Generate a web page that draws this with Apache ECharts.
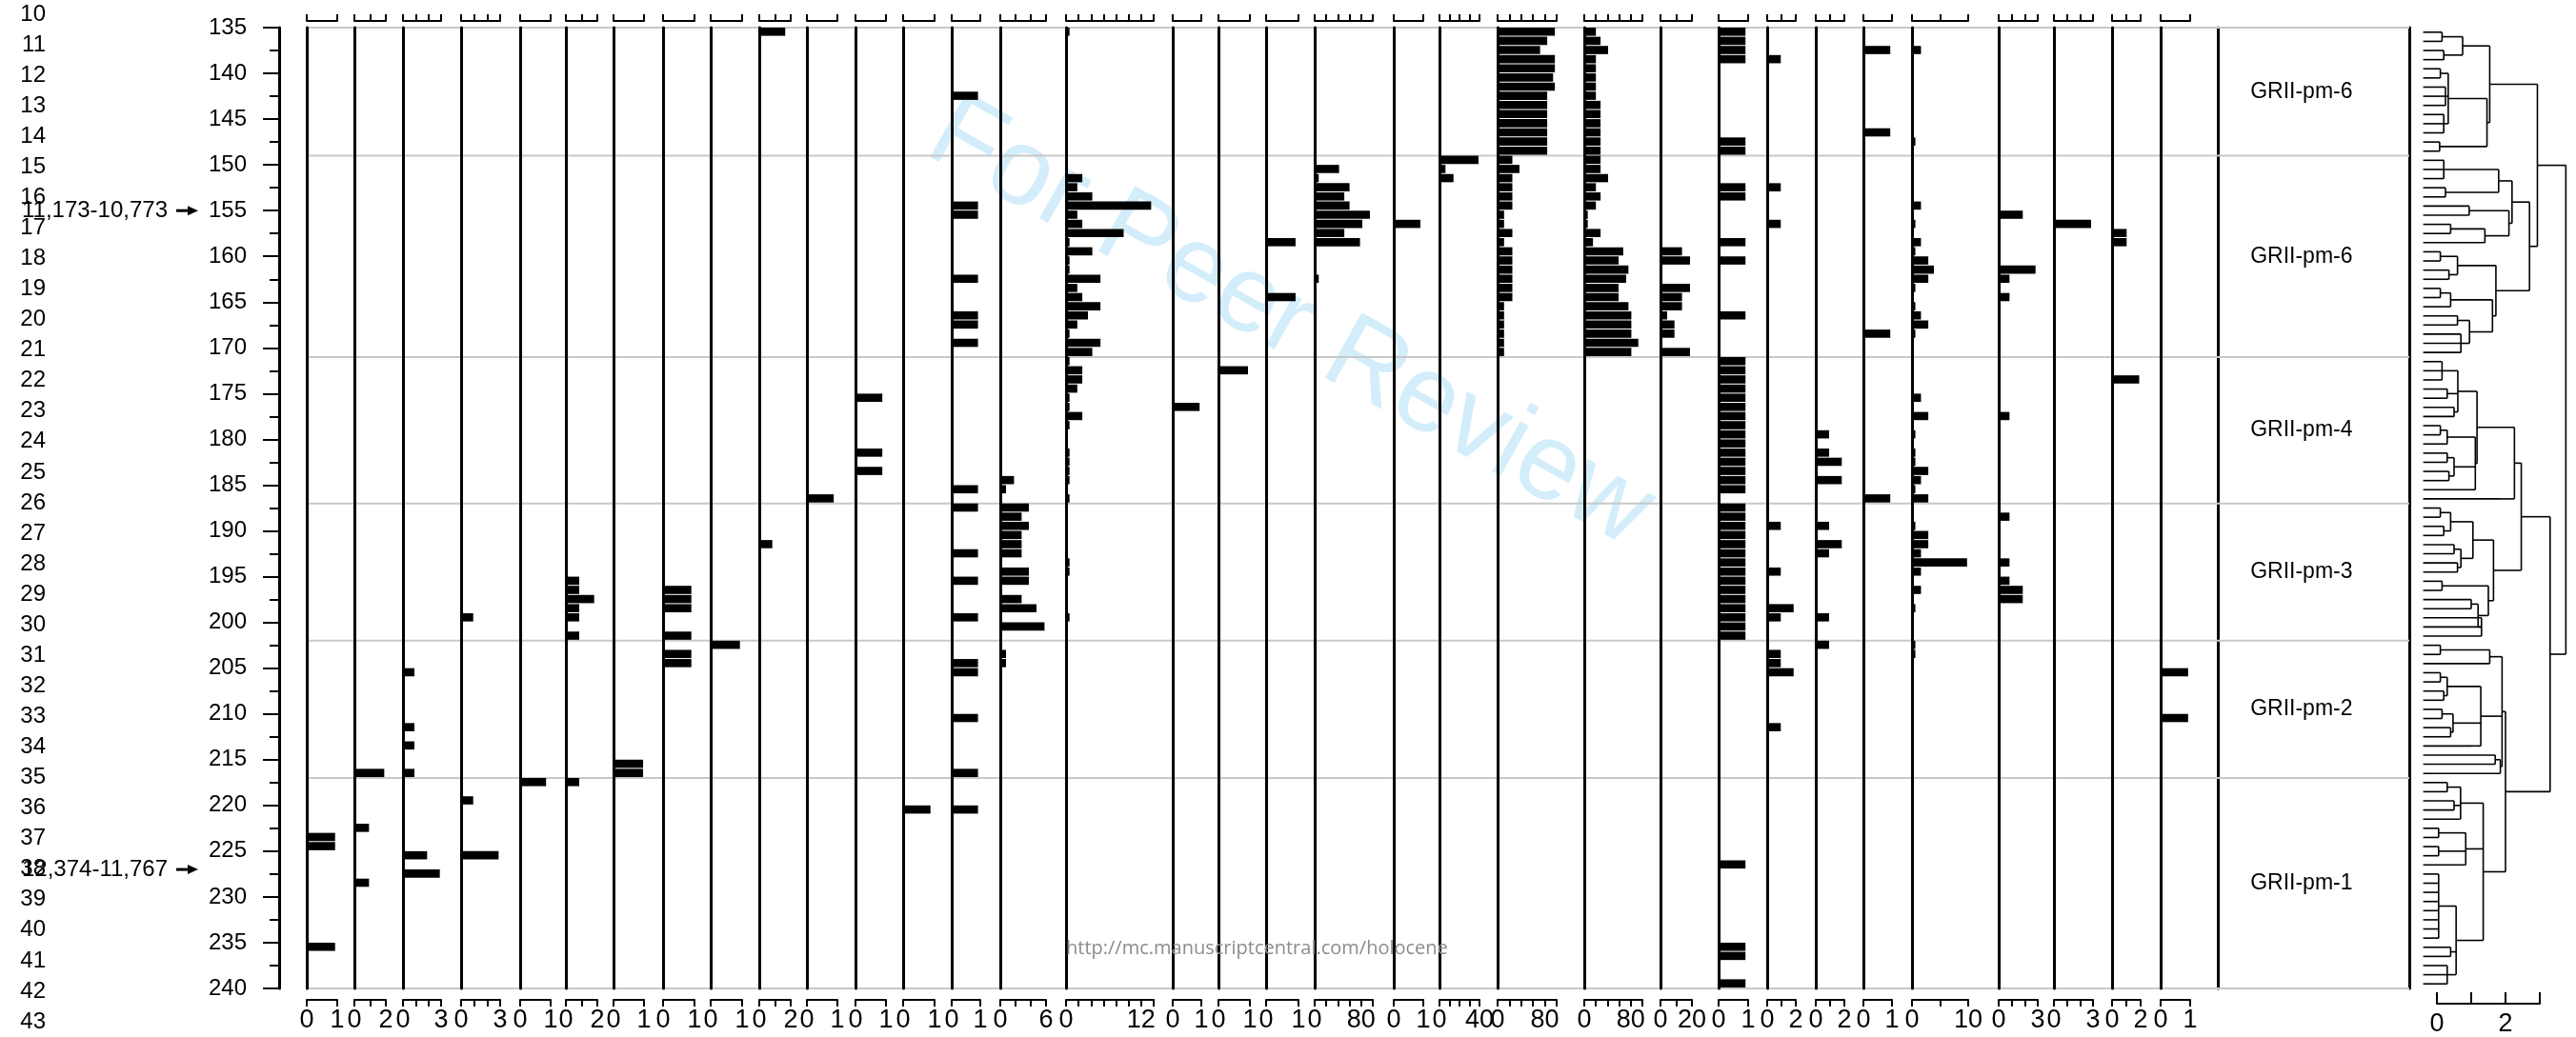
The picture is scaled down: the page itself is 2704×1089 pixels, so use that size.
<!DOCTYPE html>
<html>
<head>
<meta charset="utf-8">
<script src="https://cdn.jsdelivr.net/npm/echarts@6/dist/echarts.min.js"></script>
<style>
  html, body { margin: 0; background: #fff; }
  #chart { width: 2704px; height: 1089px; }
</style>
</head>
<body>
<div id="chart"></div>
<script>
// depth range (cm) and sample numbers on the far left
const depthMin = 135, depthMax = 240;
const sampleLabels = ['10','11','12','13','14','15','16','17','18','19','20','21','22','23','24','25','26',
  '27','28','29','30','31','32','33','34','35','36','37','38','39','40','41','42','43'];

// zones
const zoneBounds = [135, 149, 171, 187, 202, 217, 240];
const zoneNames = ['GRII-pm-6', 'GRII-pm-6', 'GRII-pm-4', 'GRII-pm-3', 'GRII-pm-2', 'GRII-pm-1'];

// dated levels
const ageNotes = [[155, '11,173-10,773'], [227, '12,374-11,767']];

// per panel scale: axis end, tick step, value of the right hand label
const axisEnd  = [1,2,3,3,1,2,1,1,1,2,1,1,1,1,6,14,1,1,1,100,1,40,100,100,20,1,2,2,1,10,3,3,2,1];
const tickStep = [1,1,1,1,1,1,1,1,1,1,1,1,1,1,2,2,1,1,1,20,1,10,20,20,10,1,1,1,1,5,1,1,1,1];
const labelMax = [1,2,3,3,1,2,1,1,1,2,1,1,1,1,6,12,1,1,1,80,1,40,80,80,20,1,2,2,1,10,3,3,2,1];

// bar values per panel: [top depth, value]
const p01 = [[223,0.93],[224,0.93],[235,0.93]];
const p02 = [[216,1.9],[222,0.93],[228,0.93]];
const p03 = [[205,0.9],[211,0.9],[213,0.9],[216,0.9],[225,1.9],[227,2.9]];
const p04 = [[199,0.93],[219,0.93],[225,2.88]];
const p05 = [[217,0.85]];
const p06 = [[195,0.85],[196,0.85],[197,1.8],[198,0.85],[199,0.85],[201,0.85],[217,0.85]];
const p07 = [[215,0.97],[216,0.97]];
const p08 = [[196,0.9],[197,0.9],[198,0.9],[201,0.9],[203,0.9],[204,0.9]];
const p09 = [[202,0.93]];
const p10 = [[135,1.65],[191,0.83]];
const p11 = [[186,0.88]];
const p12 = [[175,0.88],[181,0.88],[183,0.88]];
const p13 = [[220,0.87]];
const p14 = [[142,0.92],[154,0.92],[155,0.92],[162,0.92],[166,0.92],[167,0.92],[169,0.92],[185,0.92],
  [187,0.92],[192,0.92],[195,0.92],[199,0.92],[204,0.92],[205,0.92],[210,0.92],[216,0.92],[220,0.92]];
const p15 = [[184,1.8],[185,0.75],[187,3.75],[188,2.8],[189,3.75],[190,2.8],[191,2.8],[192,2.8],[194,3.75],
  [195,3.75],[197,2.8],[198,4.75],[200,5.8],[203,0.75],[204,0.75]];
const p16 = [[135,0.56],[151,2.6],[152,1.8],[153,4.2],[154,13.6],[155,1.8],[156,2.6],[157,9.2],[158,0.56],
  [159,4.2],[160,0.56],[161,0.56],[162,5.5],[163,1.8],[164,2.6],[165,5.5],[166,3.5],[167,1.8],[168,0.56],
  [169,5.5],[170,4.2],[171,0.56],[172,2.6],[173,2.6],[174,1.8],[175,0.56],[176,0.56],[177,2.6],[178,0.56],
  [181,0.56],[182,0.56],[183,0.56],[184,0.56],[186,0.56],[193,0.56],[194,0.56],[199,0.56]];
const p17 = [[176,0.94]];
const p18 = [[172,0.94]];
const p19 = [[158,0.91],[164,0.91]];
const p20 = [[150,42],[151,7],[152,60],[153,51],[154,60],[155,95],[156,82],[157,51],[158,78],[162,7]];
const p21 = [[156,0.9]];
const p22 = [[149,39],[150,6],[151,14]];
const p23 = [[135,97],[136,84],[137,72],[138,97],[139,97],[140,94],[141,97],[142,84],[143,84],[144,84],
  [145,84],[146,84],[147,84],[148,84],[149,25],[150,37],[151,25],[152,25],[153,25],[154,25],[155,11],
  [156,11],[157,25],[158,11],[159,25],[160,25],[161,25],[162,25],[163,25],[164,25],[165,11],[166,11],
  [167,11],[168,11],[169,11],[170,11]];
const p24 = [[135,20],[136,28],[137,41],[138,20],[139,20],[140,20],[141,20],[142,20],[143,28],[144,28],
  [145,28],[146,28],[147,28],[148,28],[149,28],[150,28],[151,41],[152,20],[153,28],[154,20],[155,6],
  [156,6],[157,28],[158,15],[159,67],[160,59],[161,76],[162,72],[163,59],[164,59],[165,76],[166,81],
  [167,81],[168,81],[169,93],[170,81]];
const p25 = [[159,13.7],[160,18.8],[163,18.8],[164,13.7],[165,13.7],[166,4.2],[167,8.9],[168,8.9],[170,18.8]];
const p26 = [[135,0.91],[136,0.91],[137,0.91],[138,0.91],[147,0.91],[148,0.91],[152,0.91],[153,0.91],
  [158,0.91],[160,0.91],[166,0.91],[171,0.91],[172,0.91],[173,0.91],[174,0.91],[175,0.91],[176,0.91],
  [177,0.91],[178,0.91],[179,0.91],[180,0.91],[181,0.91],[182,0.91],[183,0.91],[184,0.91],[185,0.91],
  [187,0.91],[188,0.91],[189,0.91],[190,0.91],[191,0.91],[192,0.91],[193,0.91],[194,0.91],[195,0.91],
  [196,0.91],[197,0.91],[198,0.91],[199,0.91],[200,0.91],[201,0.91],[226,0.91],[235,0.91],[236,0.91],[239,0.91]];
const p27 = [[138,0.95],[152,0.95],[156,0.95],[189,0.95],[194,0.95],[198,1.85],[199,0.95],[203,0.95],
  [204,0.95],[205,1.85],[211,0.95]];
const p28 = [[179,0.93],[181,0.93],[182,1.82],[184,1.82],[189,0.93],[191,1.82],[192,0.93],[199,0.93],[202,0.93]];
const p29 = [[137,0.94],[146,0.94],[168,0.94],[186,0.94]];
const p30 = [[137,1.6],[147,0.6],[154,1.6],[156,0.6],[158,1.6],[159,0.6],[160,2.9],[161,3.9],[162,2.9],
  [163,0.6],[165,0.6],[166,1.6],[167,2.9],[168,0.6],[175,1.6],[177,2.9],[179,0.6],[181,0.6],[182,0.6],
  [183,2.9],[184,1.6],[185,0.6],[186,2.9],[189,0.6],[190,2.9],[191,2.9],[192,1.6],[193,9.8],[194,1.6],
  [196,1.6],[198,0.6],[202,0.6],[203,0.6]];
const p31 = [[155,1.85],[161,2.83],[162,0.83],[164,0.83],[177,0.83],[188,0.83],[193,0.83],[195,0.83],[196,1.85],[197,1.85]];
const p32 = [[156,2.85]];
const p33 = [[157,1.02],[158,1.02],[173,1.9]];
const p34 = [[205,0.93],[210,0.93]];

const panels = [p01,p02,p03,p04,p05,p06,p07,p08,p09,p10,p11,p12,p13,p14,p15,p16,p17,
  p18,p19,p20,p21,p22,p23,p24,p25,p26,p27,p28,p29,p30,p31,p32,p33,p34];

// CONISS dendrogram: [join height, children...], leaves are sample depths
const coniss = [3.76,
  [2.93,
    [1.54,
      [0.75, [0.15,135,136], [0.2,137,138]],
      [1.46, [0.33, [0.1,139,140], [0.25,141,142,143], [0.2,144,145,146]], [0.08,147,148]]],
    [2.7,
      [2.19,
        [1.8, [0.2,149,150,151], [0.25,152,153]],
        [2.1, [0.94,154,155], [1.4, [0.4,156,157], 158]]],
      [1.72,
        [0.6, [0.1,159,160], [0.35,161,162]],
        [1.62, [0.4, [0.1,163,164], [0.2,165]], [0.95, [0.6,166,167], [0.7,168,169,170]]]]]],
  [3.3,
    [2.46,
      [2.26,
        [1.17,
          [0.61, [0.15,171,172,173], [0.3,174,175], [0.5,176,177]],
          [1.12, [0.3, [0.1,178,179], 180], [0.5, [0.3,181,182], [0.35,183,184]], [1.0,185]]],
        [1.86, 186]],
      [1.65,
        [1.05, [0.4, [0.1,187,188], [0.2,189,190]], [0.7, [0.5,191,192], [0.6,193,194]]],
        [1.5, [0.15,195,196], [1.2, [1.0,197,198], [1.3,199,200,201]]]]],
    [2.0,
      [1.9,
        [1.54, [0.1,202,203], [1.5,204]],
        [1.28, [0.3, [0.1,205,206], [0.2,207,208]], [0.47, [0.15,209,210], [0.4,211,212]], [1.0,213]],
        [1.85, [1.7,214,215], 216]],
      [1.35,
        [0.69, [0.3,217,218], [0.5,219,220], [0.65,221]],
        [0.84, [0.05,222,223], [0.05,224,225], [0.8,226]],
        [0.56, [0.05,227,228,229,230,231,232,233,234], [0.4,235,236], [0.3,237,238,239]]]]]];

// ---- layout (pixels) ----
const panelLeft  = [322,372,423,484,546,594,644,696,746,797,847,898,948,999,1050,1119,1231,1279,1329,
  1380,1463,1511,1572,1663,1743,1804,1855,1906,1956,2007,2098,2156,2217,2268];
const panelWidth = [32,33,40,41,32,33,32,33,33,33,32,32,33,30,48,92,30,33,34,61,31,42,62,61,33,31,30,30,
  30,59,41,41,30,31];
const TOP = 29, HEIGHT = 1009;
const SANS = '"Liberation Sans", Arial, sans-serif';
const NARROW = '"Liberation Sans Narrow", "Arial Narrow", "Liberation Sans", sans-serif';
const LEAF_X = -0.4;
const DENDRO_PX = 36;     // px per unit of the dendrogram scale
const DENDRO_END = 3.8;   // room for the root link

const grids = [], xAxes = [], yAxes = [], series = [];

function depthAxis(gi, extra) {
  return Object.assign({
    gridIndex: gi, type: 'value', min: depthMin, max: depthMax, inverse: true,
    axisLine: { show: false }, axisTick: { show: false }, axisLabel: { show: false },
    splitLine: { show: false }
  }, extra || {});
}
function unitAxis(gi) {
  return { gridIndex: gi, type: 'value', min: 0, max: 1, show: false };
}

// background: zone lines across all panels
grids.push({ left: 322, top: TOP, width: 2207, height: HEIGHT });
xAxes.push(unitAxis(0));
yAxes.push(depthAxis(0));
series.push({
  type: 'custom', xAxisIndex: 0, yAxisIndex: 0, z: 1, silent: true,
  data: zoneBounds.map(d => [0, d]),
  renderItem: (params, api) => {
    const a = api.coord([0, api.value(1)]), b = api.coord([1, api.value(1)]);
    return { type: 'line', shape: { x1: a[0], y1: a[1], x2: b[0], y2: b[1] },
      style: { stroke: '#c8c8c8', lineWidth: 2 } };
  }
});

// depth axis
grids.push({ left: 293, top: TOP, width: 1, height: HEIGHT });
xAxes.push(unitAxis(1));
yAxes.push(depthAxis(1, {
  interval: 5,
  axisLine: { show: true, lineStyle: { color: '#000', width: 3 } },
  axisTick: { show: true, length: 17, lineStyle: { color: '#000', width: 2 } },
  minorTick: { show: true, splitNumber: 2, length: 10, lineStyle: { color: '#000', width: 2 } },
  axisLabel: { show: true, margin: 34, fontSize: 24, fontFamily: SANS, color: '#000' }
}));
series.push({
  type: 'custom', xAxisIndex: 1, yAxisIndex: 1, silent: true,
  data: ageNotes.map(a => [0, a[0]]),
  renderItem: (params, api) => {
    const p = api.coord([0, api.value(1)]);
    return { type: 'group', children: [
      { type: 'text', style: { text: ageNotes[params.dataIndex][1], x: p[0] - 117, y: p[1],
          align: 'right', verticalAlign: 'middle', fontSize: 24, fontFamily: SANS, fill: '#000' } },
      { type: 'line', shape: { x1: p[0] - 108, y1: p[1], x2: p[0] - 94, y2: p[1] },
          style: { stroke: '#000', lineWidth: 3 } },
      { type: 'polygon', shape: { points: [[p[0] - 96, p[1] - 5], [p[0] - 85, p[1]], [p[0] - 96, p[1] + 5]] },
          style: { fill: '#000' } }
    ] };
  }
});

// sample numbers
grids.push({ left: 50, top: 15, width: 1, height: 1058 });
xAxes.push(unitAxis(2));
yAxes.push({
  gridIndex: 2, type: 'category', data: sampleLabels, boundaryGap: false, inverse: true,
  axisLine: { show: false }, axisTick: { show: false }, splitLine: { show: false },
  axisLabel: { interval: 0, margin: 2, fontSize: 24, fontFamily: SANS, color: '#000' }
});

// pollen panels
panels.forEach((rows, i) => {
  const gi = grids.length;
  grids.push({ left: panelLeft[i], top: TOP, width: panelWidth[i], height: HEIGHT });
  const common = {
    gridIndex: gi, type: 'value', min: 0, max: axisEnd[i], interval: tickStep[i],
    splitLine: { show: false },
    axisLine: { show: true, onZero: false, lineStyle: { color: '#000', width: 2 } },
    axisTick: { show: true, length: 7, lineStyle: { color: '#000', width: 2 } }
  };
  const xb = xAxes.length;
  xAxes.push(Object.assign({}, common, {
    position: 'bottom', offset: 12,
    axisLabel: { margin: 8, fontSize: 27, fontFamily: NARROW, color: '#000',
      formatter: v => (v === 0 || v === labelMax[i]) ? String(v) : '' }
  }));
  xAxes.push(Object.assign({}, common, { position: 'top', offset: 7, axisLabel: { show: false } }));
  const yi = yAxes.length;
  yAxes.push(depthAxis(gi, { z: 3, axisLine: { show: true, onZero: false, lineStyle: { color: '#000', width: 3 } } }));
  series.push({
    type: 'custom', xAxisIndex: xb, yAxisIndex: yi, z: 2, silent: true,
    data: rows.map(r => [r[1], r[0]]),
    renderItem: (params, api) => {
      const a = api.coord([0, api.value(1)]);
      const b = api.coord([api.value(0), api.value(1) + 1]);
      return { type: 'rect', shape: { x: a[0], y: a[1], width: b[0] - a[0], height: b[1] - a[1] - 1 },
        style: { fill: '#000' } };
    }
  });
});

// zone column
{
  const gi = grids.length;
  grids.push({ left: 2328, top: TOP, width: 201, height: HEIGHT });
  xAxes.push(unitAxis(gi));
  const yi = yAxes.length;
  const line = { show: true, onZero: false, lineStyle: { color: '#000', width: 3 } };
  yAxes.push(depthAxis(gi, { position: 'left', axisLine: line }));
  yAxes.push(depthAxis(gi, { position: 'right', axisLine: line }));
  series.push({
    type: 'custom', xAxisIndex: xAxes.length - 1, yAxisIndex: yi, silent: true,
    data: zoneNames.map((n, k) => [0.17, (zoneBounds[k] + zoneBounds[k + 1]) / 2]),
    renderItem: (params, api) => {
      const p = api.coord([api.value(0), api.value(1)]);
      return { type: 'text', style: { text: zoneNames[params.dataIndex], x: p[0], y: p[1],
        verticalAlign: 'middle', fontSize: 23, fontFamily: SANS, fill: '#000' } };
    }
  });
}

// dendrogram
{
  const segs = [];
  const place = node => {
    if (typeof node === 'number') return { y: node + 0.5, h: LEAF_X };
    const h = node[0];
    const kids = node.slice(1).map(place);
    kids.forEach(k => segs.push([k.h, k.y, h, k.y]));
    segs.push([h, kids[0].y, h, kids[kids.length - 1].y]);
    return { y: (kids[0].y + kids[kids.length - 1].y) / 2, h };
  };
  place(coniss);

  // drawing area, wide enough for the root link
  const gi = grids.length;
  grids.push({ left: 2558, top: TOP, width: DENDRO_END * DENDRO_PX, height: HEIGHT });
  const xi = xAxes.length;
  xAxes.push({ gridIndex: gi, type: 'value', min: 0, max: DENDRO_END, show: false });
  const yi = yAxes.length;
  yAxes.push(depthAxis(gi));
  series.push({
    type: 'custom', xAxisIndex: xi, yAxisIndex: yi, silent: true,
    data: segs,
    renderItem: (params, api) => {
      const a = api.coord([api.value(0), api.value(1)]);
      const b = api.coord([api.value(2), api.value(3)]);
      return { type: 'line', shape: { x1: a[0], y1: a[1], x2: b[0], y2: b[1] },
        style: { stroke: '#000', lineWidth: 1.6 } };
    }
  });

  // visible scale 0..3
  const ga = grids.length;
  grids.push({ left: 2558, top: TOP, width: 3 * DENDRO_PX, height: HEIGHT });
  xAxes.push({
    gridIndex: ga, type: 'value', min: 0, max: 3, interval: 1, position: 'bottom', offset: 18,
    splitLine: { show: false },
    axisLine: { show: true, onZero: false, lineStyle: { color: '#000', width: 2 } },
    axisTick: { show: true, inside: true, length: 12, lineStyle: { color: '#000', width: 2 } },
    axisLabel: { margin: 8, fontSize: 27, fontFamily: NARROW, color: '#000',
      formatter: v => (v === 0 || v === 2) ? String(v) : '' }
  });
  yAxes.push(depthAxis(ga));
}

const chart = echarts.init(document.getElementById('chart'));
chart.setOption({
  animation: false,
  backgroundColor: '#fff',
  grid: grids,
  xAxis: xAxes,
  yAxis: yAxes,
  series: series,
  graphic: { elements: [
    { type: 'text', x: 1354, y: 340, rotation: -0.51, z: 0, silent: true,
      style: { text: 'For Peer Review', fontSize: 114, fontFamily: SANS, fill: '#d3edfa',
        align: 'center', verticalAlign: 'middle' } },
    { type: 'text', x: 1119, y: 986, z: 5, silent: true,
      style: { text: 'http://mc.manuscriptcentral.com/holocene', fontSize: 20,
        fontFamily: '"Open Sans", sans-serif', fill: '#8c8c8c', verticalAlign: 'top' } }
  ] }
});
</script>
</body>
</html>
